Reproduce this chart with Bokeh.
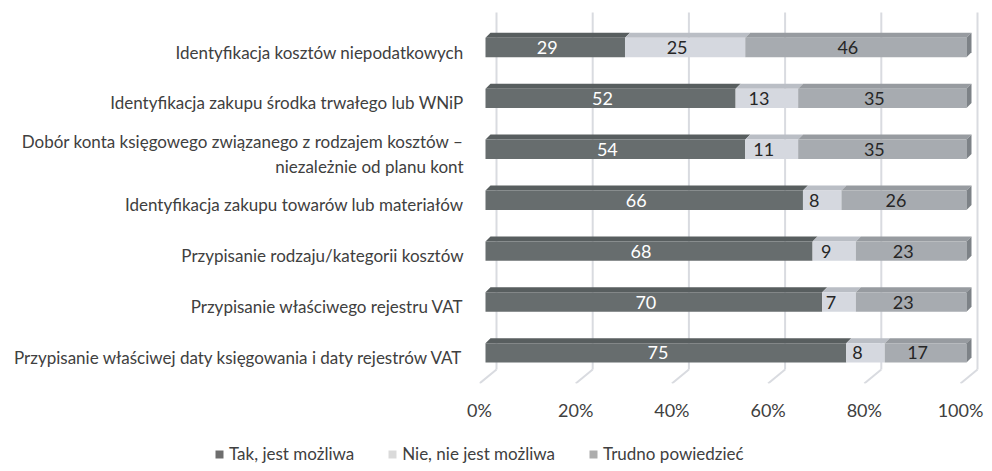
from bokeh.plotting import figure
from bokeh.layouts import column
from bokeh.models import Range1d, FixedTicker, Legend, LegendItem
from bokeh.embed import file_html
from bokeh.resources import INLINE
from bokeh.core.properties import value

# ---------------- data ----------------
categories = [
    "Identyfikacja kosztów niepodatkowych",
    "Identyfikacja zakupu środka trwałego lub WNiP",
    "Dobór konta księgowego związanego z rodzajem kosztów –\nniezależnie od planu kont",
    "Identyfikacja zakupu towarów lub materiałów",
    "Przypisanie rodzaju/kategorii kosztów",
    "Przypisanie właściwego rejestru VAT",
    "Przypisanie właściwej daty księgowania i daty rejestrów VAT",
]
tak = [29, 52, 54, 66, 68, 70, 75]
nie = [25, 13, 11, 8, 9, 7, 8]
trudno = [46, 35, 35, 26, 23, 23, 17]
series_names = ["Tak, jest możliwa", "Nie, nie jest możliwa", "Trudno powiedzieć"]
x_ticks = [0, 20, 40, 60, 80, 100]
x_tick_labels = ["0%", "20%", "40%", "60%", "80%", "100%"]

# ---------------- style / geometry ----------------
FONT = "Lato"
front_colors = ["#676d6e", "#d5d8df", "#a7abb0"]
top_colors = ["#585e5f", "#babec5", "#979ba0"]
side_color = "#7d8287"
label_colors = ["#ffffff", "#262626", "#262626"]
legend_colors = ["#6e6e6e", "#dadada", "#adadad"]

W = 992
H_MAIN, H_LEG = 440, 31
BORDER_L = 479
BORDER_B = H_MAIN - 383
PX_X = 4.81      # px per percent
PX_Y = 50.9      # px per row
frame_w = W - BORDER_L
frame_h = H_MAIN - BORDER_B

n = len(categories)
rows = [n - 1 - i for i in range(n)]
BAR_YOFF = 4.5 / PX_Y   # bars sit slightly above their label line
y_start = (352.4 - 383.0) / PX_Y + BAR_YOFF
y_end = y_start + frame_h / PX_Y
x_end = frame_w / PX_X

FX = 6 / PX_X           # bar front face offset from floor front
HB = 9.7 / PX_Y         # half bar height
DX = 5 / PX_X           # bar depth x
DY = 5 / PX_Y           # bar depth y
GX = 17 / PX_X          # floor depth x
Y_FLOOR_BACK = y_start + 14 / PX_Y
Y_GRID_TOP = y_start + (383 - 12) / PX_Y

p = figure(width=W, height=H_MAIN, output_backend="svg", toolbar_location=None,
           x_range=Range1d(0, x_end), y_range=Range1d(y_start, y_end),
           min_border_left=BORDER_L, min_border_bottom=BORDER_B,
           min_border_top=0, min_border_right=0)
p.outline_line_color = None
p.xgrid.visible = False
p.ygrid.visible = False
p.background_fill_color = "white"
p.border_fill_color = "white"

# gridlines: back wall verticals + floor diagonals
gx_back = [t + GX for t in x_ticks]
p.segment(x0=gx_back, y0=[Y_FLOOR_BACK] * len(x_ticks), x1=gx_back, y1=[Y_GRID_TOP] * len(x_ticks),
          line_color="#d9dbe0", line_width=2)
p.segment(x0=gx_back, y0=[Y_FLOOR_BACK] * len(x_ticks), x1=x_ticks, y1=[y_start] * len(x_ticks),
          line_color="#d9dbe0", line_width=2)

# bars
series = [tak, nie, trudno]
for s_idx, vals in enumerate(series):
    lefts, rights, tops, bottoms = [], [], [], []
    top_xs, top_ys = [], []
    lx, ly, lt = [], [], []
    for i, v in enumerate(vals):
        start = sum(series[k][i] for k in range(s_idx))
        end = start + v
        r = rows[i] + BAR_YOFF
        lefts.append(start + FX)
        rights.append(end + FX)
        bottoms.append(r - HB)
        tops.append(r + HB)
        top_xs.append([start + FX, end + FX, end + FX + DX, start + FX + DX])
        top_ys.append([r + HB, r + HB, r + HB + DY, r + HB + DY])
        lx.append((start + end) / 2 + FX)
        ly.append(r)
        lt.append(str(v))
    p.patches(xs=top_xs, ys=top_ys, fill_color=top_colors[s_idx], line_color=None)
    p.quad(left=lefts, right=rights, bottom=bottoms, top=tops,
           fill_color=front_colors[s_idx], line_color=None)
    p.text(x=lx, y=ly, text=lt, text_align="center", text_baseline="middle",
           text_font=value(FONT), text_font_size="18px", text_color=label_colors[s_idx],
           x_offset=-8)

# side faces of the last segment
side_xs, side_ys = [], []
for i in range(n):
    total = tak[i] + nie[i] + trudno[i]
    r = rows[i] + BAR_YOFF
    side_xs.append([total + FX, total + FX, total + FX + DX, total + FX + DX])
    side_ys.append([r - HB, r + HB, r + HB + DY, r - HB + DY])
p.patches(xs=side_xs, ys=side_ys, fill_color=side_color, line_color=None)

# axes
p.xaxis.ticker = FixedTicker(ticks=x_ticks)
p.xaxis.major_label_overrides = {t: l for t, l in zip(x_ticks, x_tick_labels)}
p.xaxis.axis_line_color = None
p.xaxis.major_tick_line_color = None
p.xaxis.minor_tick_line_color = None
p.xaxis.major_label_standoff = 9
p.xaxis.major_label_text_font = FONT
p.xaxis.major_label_text_font_size = "18px"
p.xaxis.major_label_text_color = "#404040"

p.yaxis.ticker = FixedTicker(ticks=rows)
p.yaxis.major_label_overrides = {r: c for r, c in zip(rows, categories)}
p.yaxis.axis_line_color = None
p.yaxis.major_tick_line_color = None
p.yaxis.minor_tick_line_color = None
p.yaxis.major_label_standoff = 10
p.yaxis.major_label_text_font = FONT
p.yaxis.major_label_text_font_size = "17px"
p.yaxis.major_label_text_color = "#404040"

# ---------------- legend strip ----------------
pl = figure(width=W, height=H_LEG, output_backend="svg", toolbar_location=None,
            x_range=Range1d(0, 1), y_range=Range1d(0, 1),
            min_border=0, x_axis_type=None, y_axis_type=None)
pl.outline_line_color = None
pl.xgrid.visible = False
pl.ygrid.visible = False
for fig in (p, pl):
    if "frame_align" in fig.properties():
        fig.frame_align = False
items = []
for s_idx, name in enumerate(series_names):
    sw = pl.quad(left=[-10], right=[-9], bottom=[-10], top=[-9],
                 fill_color=legend_colors[s_idx], line_color=None)
    items.append(LegendItem(label=name, renderers=[sw]))
legend = Legend(items=items, orientation="horizontal", location=(214, 7),
                glyph_width=10, glyph_height=10, label_standoff=5, spacing=33,
                padding=0, margin=0, border_line_alpha=0, background_fill_alpha=0,
                label_text_font=FONT, label_text_font_size="17px",
                label_text_color="#404040", label_height=16)
pl.add_layout(legend)

layout = column(p, pl, spacing=0)
open("out.html", "w").write(file_html(layout, INLINE))
